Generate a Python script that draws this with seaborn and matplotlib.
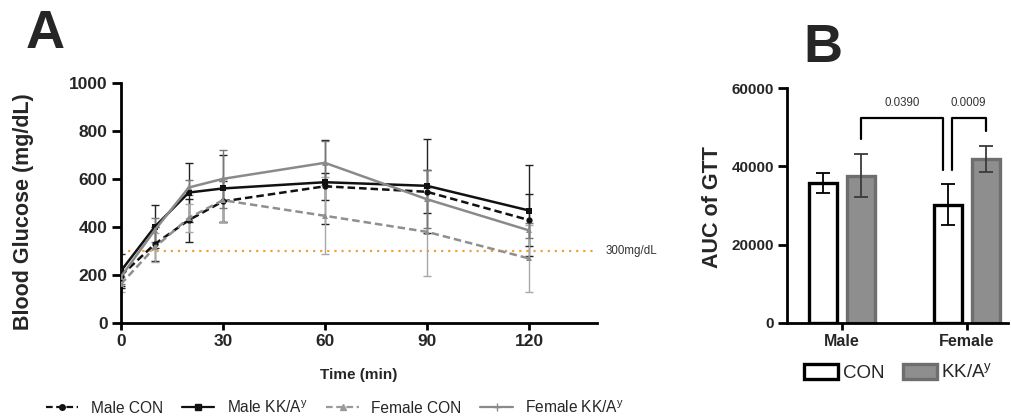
import numpy as np
import pandas as pd
import matplotlib
matplotlib.use("Agg")
import matplotlib.pyplot as plt
import seaborn as sns
from matplotlib.lines import Line2D
from matplotlib.patches import Patch
from matplotlib.container import BarContainer

# ---------------- data ----------------
time = [0, 10, 20, 30, 60, 90, 120]
male_con = [195, 328, 428, 506, 569, 546, 428]
male_con_err = [40, 70, 90, 85, 56, 90, 110]
male_kk = [215, 400, 543, 560, 586, 571, 468]
male_kk_err = [70, 90, 125, 140, 175, 196, 190]
female_con = [160, 314, 437, 511, 446, 379, 268]
female_con_err = [30, 60, 60, 90, 160, 183, 140]
female_kk = [190, 386, 564, 600, 667, 515, 385]
female_kk_err = [30, 50, 30, 122, 91, 120, 30]
threshold = 300

series_names = ["Male CON", "Male KK/A$^\\mathregular{y}$",
                "Female CON", "Female KK/A$^\\mathregular{y}$"]

sexes = ["Male", "Female"]
groups = ["CON", "KK/A$^\\mathregular{y}$"]
auc_con = [35800, 30200]
auc_con_err = [2600, 5200]
auc_kk = [37600, 41900]
auc_kk_err = [5500, 3300]
p_values = ["0.0390", "0.0009"]

# ---------------- style ----------------
sns.set_theme(style="ticks")
plt.rcParams["font.family"] = ["Liberation Sans", "DejaVu Sans"]
plt.rcParams["mathtext.fontset"] = "custom"
plt.rcParams["mathtext.rm"] = "Liberation Sans"

fig = plt.figure(figsize=(10.12, 4.2), dpi=100)
axA = fig.add_axes([0.1193, 0.2317, 0.4707, 0.5707])
axB = fig.add_axes([0.7777, 0.2317, 0.2184, 0.558])

# ---------------- panel A ----------------
vals = [male_con, male_kk, female_con, female_kk]
errs = [male_con_err, male_kk_err, female_con_err, female_kk_err]
df = pd.DataFrame({
    "time": np.tile(time, 4),
    "value": np.concatenate(vals),
    "series": np.repeat(series_names, len(time)),
})
line_cols = {series_names[0]: "#111111", series_names[1]: "#111111",
             series_names[2]: "#8f8f8f", series_names[3]: "#8a8a8a"}
err_cols = ["#222222", "#222222", "#a8a8a8", "#777777"]
dashes = {series_names[0]: (3, 1.6), series_names[1]: "",
          series_names[2]: (3, 1.6), series_names[3]: ""}
markers = {series_names[0]: "o", series_names[1]: "s",
           series_names[2]: "^", series_names[3]: "^"}

axA.axhline(threshold, color="#f0a040", ls=(0, (1, 2.2)), lw=1.6, zorder=1)
for name, v, e, c in zip(series_names, vals, errs, err_cols):
    axA.errorbar(time, v, yerr=e, fmt="none", ecolor=c, elinewidth=1.0,
                 capsize=3, capthick=1.0, zorder=2)
sns.lineplot(data=df, x="time", y="value", hue="series", style="series",
             hue_order=series_names, style_order=series_names,
             palette=line_cols, dashes=dashes, markers=markers,
             markersize=4.5, markeredgewidth=0, linewidth=1.8,
             legend=False, ax=axA, zorder=3)

axA.set_xlim(0, 140)
axA.set_ylim(0, 1000)
axA.set_xticks([0, 30, 60, 90, 120])
axA.set_yticks([0, 200, 400, 600, 800, 1000])
axA.set_xlabel("Time (min)", fontsize=11, fontweight="bold", labelpad=14)
axA.set_ylabel("Blood Glucose (mg/dL)", fontsize=15.5, fontweight="bold")
axA.yaxis.set_label_coords(-0.182, 0.462)
axA.text(142.5, threshold, "300mg/dL", fontsize=8.3, va="center", ha="left",
         color="#333333")
for ax in (axA, axB):
    for s in ("top", "right"):
        ax.spines[s].set_visible(False)
    for s in ("left", "bottom"):
        ax.spines[s].set_linewidth(2.0)
        ax.spines[s].set_color("black")
    ax.tick_params(width=2.0, color="black", pad=3)
    ax.tick_params(axis="y", length=6.5)
    ax.tick_params(axis="x", length=5)

axA.tick_params(labelsize=12.5)
fig.text(0.025, 0.885, "A", fontsize=39, fontweight="bold")
fig.text(0.794, 0.853, "B", fontsize=39, fontweight="bold")

handlesA = [
    Line2D([], [], color="#111111", ls=(0, (3, 1.6)), marker="o", ms=4, lw=1.6),
    Line2D([], [], color="#111111", ls="-", marker="s", ms=4, lw=1.6),
    Line2D([], [], color="#9a9a9a", ls=(0, (3, 1.6)), marker="^", ms=4, lw=1.6),
    Line2D([], [], color="#8a8a8a", ls="-", marker="+", ms=6, lw=1.6),
]
fig.legend(handlesA, series_names, loc="center", bbox_to_anchor=(0.331, 0.03),
           ncol=4, frameon=False, fontsize=11.2, handlelength=2.1,
           handletextpad=0.8, columnspacing=1.2)

# ---------------- panel B ----------------
dfb = pd.DataFrame({
    "sex": sexes * 2,
    "group": np.repeat(groups, 2),
    "auc": auc_con + auc_kk,
})
sns.barplot(data=dfb, x="sex", y="auc", hue="group", order=sexes,
            hue_order=groups, width=0.61, gap=0.26, errorbar=None,
            legend=False, ax=axB)
face = ["white", "#8e8e8e"]
edge = ["black", "#6e6e6e"]
ecol = ["black", "#3a3a3a"]
err_sets = [auc_con_err, auc_kk_err]
centers = {}
bar_conts = [c for c in axB.containers if isinstance(c, BarContainer)]
for gi, cont in enumerate(bar_conts):
    xs, ys = [], []
    for p in cont.patches:
        p.set_facecolor(face[gi])
        p.set_edgecolor(edge[gi])
        p.set_linewidth(2.4)
        xs.append(p.get_x() + p.get_width() / 2)
        ys.append(p.get_height())
    centers[gi] = xs
    axB.errorbar(xs, ys, yerr=err_sets[gi], fmt="none", ecolor=ecol[gi],
                 elinewidth=1.3, capsize=5, capthick=1.3, zorder=5)

axB.set_xlim(-0.44, 1.33)
axB.set_ylim(0, 60000)
axB.set_yticks([0, 20000, 40000, 60000])
axB.set_xlabel("")
axB.set_ylabel("AUC of GTT", fontsize=15.5, fontweight="bold")
axB.yaxis.set_label_coords(-0.291, 0.494)
axB.tick_params(axis="y", labelsize=11)
axB.tick_params(axis="x", labelsize=11.5)

for ax in (axA, axB):
    for lab in ax.get_xticklabels() + ax.get_yticklabels():
        lab.set_fontweight("bold")

# significance brackets
top = 52400
gapb = 3800
x_mk = centers[1][0]
x_fc = centers[0][1]
x_fk = centers[1][1]
tops = [auc_kk[0] + auc_kk_err[0], auc_con[1] + auc_con_err[1],
        auc_kk[1] + auc_kk_err[1]]
b1 = [x_mk, x_fc - 0.04]
b2 = [x_fc + 0.03, x_fk]
axB.plot([b1[0], b1[0], b1[1], b1[1]],
         [tops[0] + gapb, top, top, tops[1] + gapb],
         color="black", lw=1.6, clip_on=False)
axB.plot([b2[0], b2[0], b2[1], b2[1]],
         [tops[1] + gapb, top, top, tops[2] + gapb],
         color="black", lw=1.6, clip_on=False)
axB.text(np.mean(b1), 56200, p_values[0], ha="center", va="center",
         fontsize=8.3, color="#333333")
axB.text(np.mean(b2), 56200, p_values[1], ha="center", va="center",
         fontsize=8.3, color="#333333")

handlesB = [Patch(facecolor="white", edgecolor="black", linewidth=2.4),
            Patch(facecolor="#8e8e8e", edgecolor="#6e6e6e", linewidth=2.4)]
fig.legend(handlesB, groups, loc="center", bbox_to_anchor=(0.888, 0.113),
           ncol=2, frameon=False, fontsize=13.5, handlelength=1.8,
           handleheight=0.8, handletextpad=0.25, columnspacing=1.0)

fig.savefig("out.png", dpi=100)
